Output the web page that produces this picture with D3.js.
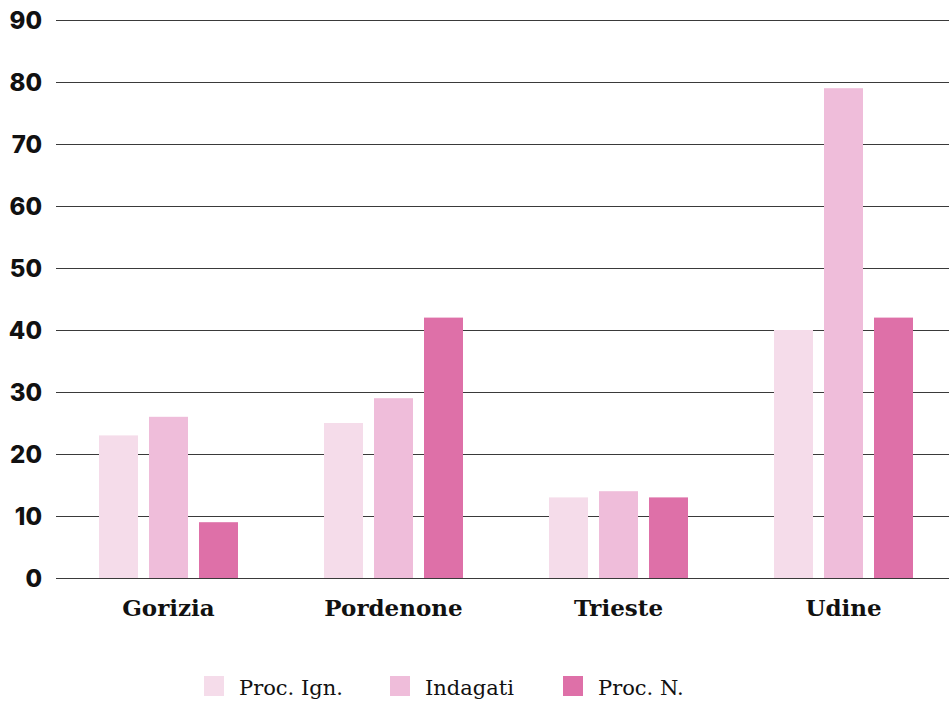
<!DOCTYPE html>
<html><head><meta charset="utf-8">
<script src="https://cdn.jsdelivr.net/npm/d3@7"></script>
<style>body{margin:0;background:#fff}svg{display:block}</style>
</head><body>
<svg id="c" width="949" height="703"></svg>
<script>
const categories = ["Gorizia", "Pordenone", "Trieste", "Udine"];
const seriesNames = ["Proc. Ign.", "Indagati", "Proc. N."];
const procIgn = [23, 25, 13, 40];
const indagati = [26, 29, 14, 79];
const procN = [9, 42, 13, 42];
const yTicks = [0, 10, 20, 30, 40, 50, 60, 70, 80, 90];
const colors = ["#f5dcea", "#efbdda", "#de70a8"];

const series = [procIgn, indagati, procN];
const svg = d3.select("#c");
const y = d3.scaleLinear().domain([0, 90]).range([578, 20]);
const x0 = d3.scaleBand().domain(categories).range([56, 956]).padding(0);
const x1 = d3.scaleBand().domain(d3.range(series.length)).range([0, x0.bandwidth()]).paddingInner(0.22).paddingOuter(0.86);

// grid
svg.append("g").selectAll("line").data(yTicks).join("line")
  .attr("x1", 56).attr("x2", 949)
  .attr("y1", d => Math.round(y(d)) + 0.5).attr("y2", d => Math.round(y(d)) + 0.5)
  .attr("stroke", "#3a3a3a").attr("stroke-width", 1);

svg.append("g").selectAll("text").data(yTicks).join("text")
  .attr("x", 42).attr("y", d => y(d)).attr("dy", "0.36em")
  .attr("text-anchor", "end")
  .attr("font-family", "Inter, sans-serif").attr("font-weight", 800).attr("font-size", 24)
  .attr("fill", "#111").text(d => d);

// bars
const groups = svg.append("g").selectAll("g").data(categories).join("g")
  .attr("transform", d => `translate(${x0(d)},0)`);
groups.selectAll("rect").data((d, i) => series.map((s, j) => ({j, v: s[i]}))).join("rect")
  .attr("x", d => x1(d.j)).attr("width", x1.bandwidth())
  .attr("y", d => y(d.v)).attr("height", d => y(0) - y(d.v))
  .attr("fill", d => colors[d.j]);

// category labels
svg.append("g").selectAll("text").data(categories).join("text")
  .attr("x", d => x0(d) + x0.bandwidth() / 2).attr("y", 616)
  .attr("text-anchor", "middle")
  .attr("font-family", "'DejaVu Serif', serif").attr("font-weight", "bold").attr("font-size", 23)
  .attr("fill", "#111").text(d => d);

// legend
const legX = [204, 390, 563];
const leg = svg.append("g").selectAll("g").data(seriesNames).join("g")
  .attr("transform", (d, i) => `translate(${legX[i]},676)`);
leg.append("rect").attr("width", 20).attr("height", 20).attr("fill", (d, i) => colors[i]);
leg.append("text").attr("x", 35).attr("y", 19)
  .attr("font-family", "'DejaVu Serif', serif").attr("font-size", 21)
  .attr("fill", "#111").text(d => d);
</script>
</body></html>
